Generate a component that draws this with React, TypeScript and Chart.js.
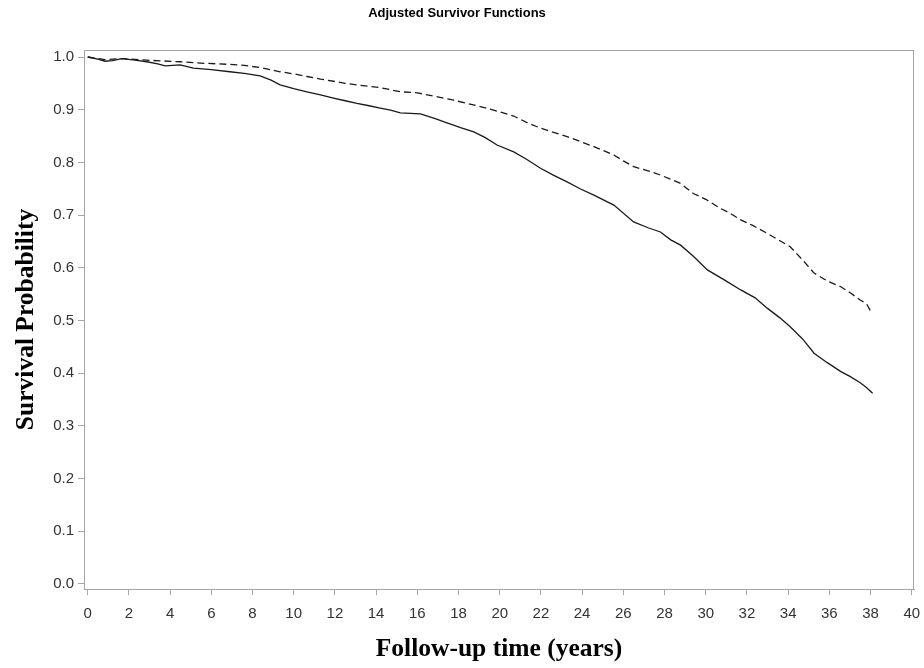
import React, { useEffect, useRef } from "react";
import { Chart, registerables } from "chart.js";

Chart.register(...registerables);

const chartTitle = "Adjusted Survivor Functions";
const xAxisTitle = "Follow-up time (years)";
const yAxisTitle = "Survival Probability";

const xTickValues = [0, 2, 4, 6, 8, 10, 12, 14, 16, 18, 20, 22, 24, 26, 28, 30, 32, 34, 36, 38, 40];
const yTickValues = [0, 0.1, 0.2, 0.3, 0.4, 0.5, 0.6, 0.7, 0.8, 0.9, 1.0];

// Solid curve
const solidTimes = [0, 0.5, 0.84, 1.2, 1.65, 2.3, 2.87, 3.4, 3.76, 4.48, 5.13, 6.0, 6.9, 7.6, 8.37, 8.9, 9.34, 10.0, 10.64, 11.3, 11.93, 12.5, 13.07, 13.6, 14.2, 14.7, 15.18, 16.15, 16.8, 17.44, 18.1, 18.74, 19.3, 19.87, 20.68, 21.3, 21.98, 22.6, 23.27, 23.9, 24.57, 25.54, 26.5, 27.2, 27.8, 28.3, 28.78, 29.4, 30.08, 30.9, 31.7, 32.4, 33.0, 33.6, 34.1, 34.7, 35.26, 35.9, 36.56, 37.0, 37.5, 37.8, 38.1];
const solidSurvival = [1.0, 0.996, 0.992, 0.993, 0.997, 0.994, 0.991, 0.987, 0.983, 0.985, 0.979, 0.976, 0.972, 0.969, 0.964, 0.956, 0.947, 0.94, 0.934, 0.928, 0.922, 0.917, 0.912, 0.908, 0.903, 0.899, 0.894, 0.892, 0.884, 0.875, 0.866, 0.858, 0.847, 0.833, 0.82, 0.806, 0.789, 0.776, 0.763, 0.75, 0.738, 0.719, 0.687, 0.676, 0.668, 0.653, 0.643, 0.622, 0.596, 0.577, 0.558, 0.543, 0.523, 0.505, 0.488, 0.465, 0.438, 0.42, 0.403, 0.394, 0.382, 0.373, 0.362];

// Dashed curve
const dashedTimes = [0, 0.84, 1.65, 2.87, 4.48, 5.7, 6.9, 7.6, 8.37, 9.34, 10.0, 10.64, 11.3, 11.93, 12.5, 13.07, 14.2, 15.18, 16.0, 16.9, 17.77, 19.06, 20.0, 20.68, 21.3, 21.98, 23.27, 24.57, 25.54, 26.0, 26.5, 27.2, 27.8, 28.3, 28.78, 29.4, 30.0, 30.7, 31.2, 31.7, 32.3, 33.0, 34.1, 34.7, 35.26, 35.9, 36.56, 37.0, 37.5, 37.8, 38.0];
const dashedSurvival = [1.0, 0.995, 0.997, 0.994, 0.991, 0.988, 0.986, 0.984, 0.98, 0.972, 0.968, 0.963, 0.958, 0.954, 0.95, 0.947, 0.942, 0.934, 0.932, 0.925, 0.918, 0.906, 0.896, 0.888, 0.876, 0.865, 0.849, 0.83, 0.814, 0.803, 0.792, 0.784, 0.776, 0.768, 0.76, 0.741, 0.73, 0.713, 0.703, 0.691, 0.68, 0.665, 0.64, 0.615, 0.59, 0.575, 0.564, 0.553, 0.539, 0.532, 0.518];

const toPoints = (xs: number[], ys: number[]) => xs.map((x, i) => ({ x, y: ys[i] }));

const framePlugin = {
  id: "frame",
  afterDatasetsDraw(chart: any) {
    const { ctx, chartArea } = chart;
    ctx.save();
    ctx.strokeStyle = "#a6a6a6";
    ctx.lineWidth = 1;
    ctx.strokeRect(
      Math.round(chartArea.left) + 0.5,
      Math.round(chartArea.top) + 0.5,
      Math.round(chartArea.right - chartArea.left) - 1,
      Math.round(chartArea.bottom - chartArea.top)
    );
    ctx.restore();
  },
};

const sans = "'Liberation Sans', Arial, sans-serif";
const serif = "'Liberation Serif', 'Times New Roman', serif";

export default function App() {
  const canvasRef = useRef<HTMLCanvasElement | null>(null);

  useEffect(() => {
    if (!canvasRef.current) return;
    const chart = new Chart(canvasRef.current, {
      type: "line",
      data: {
        datasets: [
          {
            label: "solid",
            data: toPoints(solidTimes, solidSurvival),
            borderColor: "#1a1a1a",
            borderWidth: 1.3,
            pointRadius: 0,
            tension: 0,
            fill: false,
          },
          {
            label: "dashed",
            data: toPoints(dashedTimes, dashedSurvival),
            borderColor: "#1a1a1a",
            borderWidth: 1.3,
            borderDash: [7, 4],
            pointRadius: 0,
            tension: 0,
            fill: false,
          },
        ],
      },
      options: {
        responsive: false,
        animation: false,
        layout: { padding: { left: 0, right: 10, top: 0, bottom: 0 } },
        plugins: {
          legend: { display: false },
          tooltip: { enabled: false },
          title: {
            display: true,
            text: chartTitle,
            color: "#000",
            font: { family: sans, size: 13, weight: "bold" },
            padding: { top: 6, bottom: 28.4 },
          },
        },
        scales: {
          x: {
            type: "linear",
            min: -0.18,
            max: 40.11,
            afterFit: (scale: any) => {
              scale.height = 79;
              scale.paddingLeft = 0;
              scale.paddingRight = 0;
            },
            afterBuildTicks: (scale: any) => {
              scale.ticks = xTickValues.map((v) => ({ value: v }));
            },
            ticks: {
              color: "#333",
              font: { family: sans, size: 15 },
              padding: 10,
              maxRotation: 0,
              autoSkip: false,
              callback: (v: any) => String(v),
            },
            grid: { drawOnChartArea: false, drawTicks: true, tickLength: 6, color: "#a6a6a6" },
            border: { display: true, color: "#a6a6a6" },
            title: {
              display: true,
              text: xAxisTitle,
              color: "#000",
              font: { family: serif, size: 25.5, weight: "bold" },
              padding: { top: 0, bottom: 3 },
            },
          },
          y: {
            type: "linear",
            min: -0.0095,
            max: 1.0133,
            afterFit: (scale: any) => {
              scale.width = 84;
              scale.paddingTop = 0;
              scale.paddingBottom = 0;
            },
            afterBuildTicks: (scale: any) => {
              scale.ticks = yTickValues.map((v) => ({ value: v }));
            },
            ticks: {
              color: "#333",
              font: { family: sans, size: 15 },
              padding: 4,
              autoSkip: false,
              callback: (v: any) => Number(v).toFixed(1),
            },
            grid: { drawOnChartArea: false, drawTicks: true, tickLength: 6, color: "#a6a6a6" },
            border: { display: true, color: "#a6a6a6" },
            title: {
              display: true,
              text: yAxisTitle,
              color: "#000",
              font: { family: serif, size: 25.5, weight: "bold" },
              padding: { top: 11, bottom: 0 },
            },
          },
        },
      },
      plugins: [framePlugin],
    });
    return () => chart.destroy();
  }, []);

  return (
    <div style={{ position: "fixed", left: 0, top: 0, width: 924, height: 668, background: "#fff" }}>
      <canvas ref={canvasRef} width={924} height={668} />
    </div>
  );
}
